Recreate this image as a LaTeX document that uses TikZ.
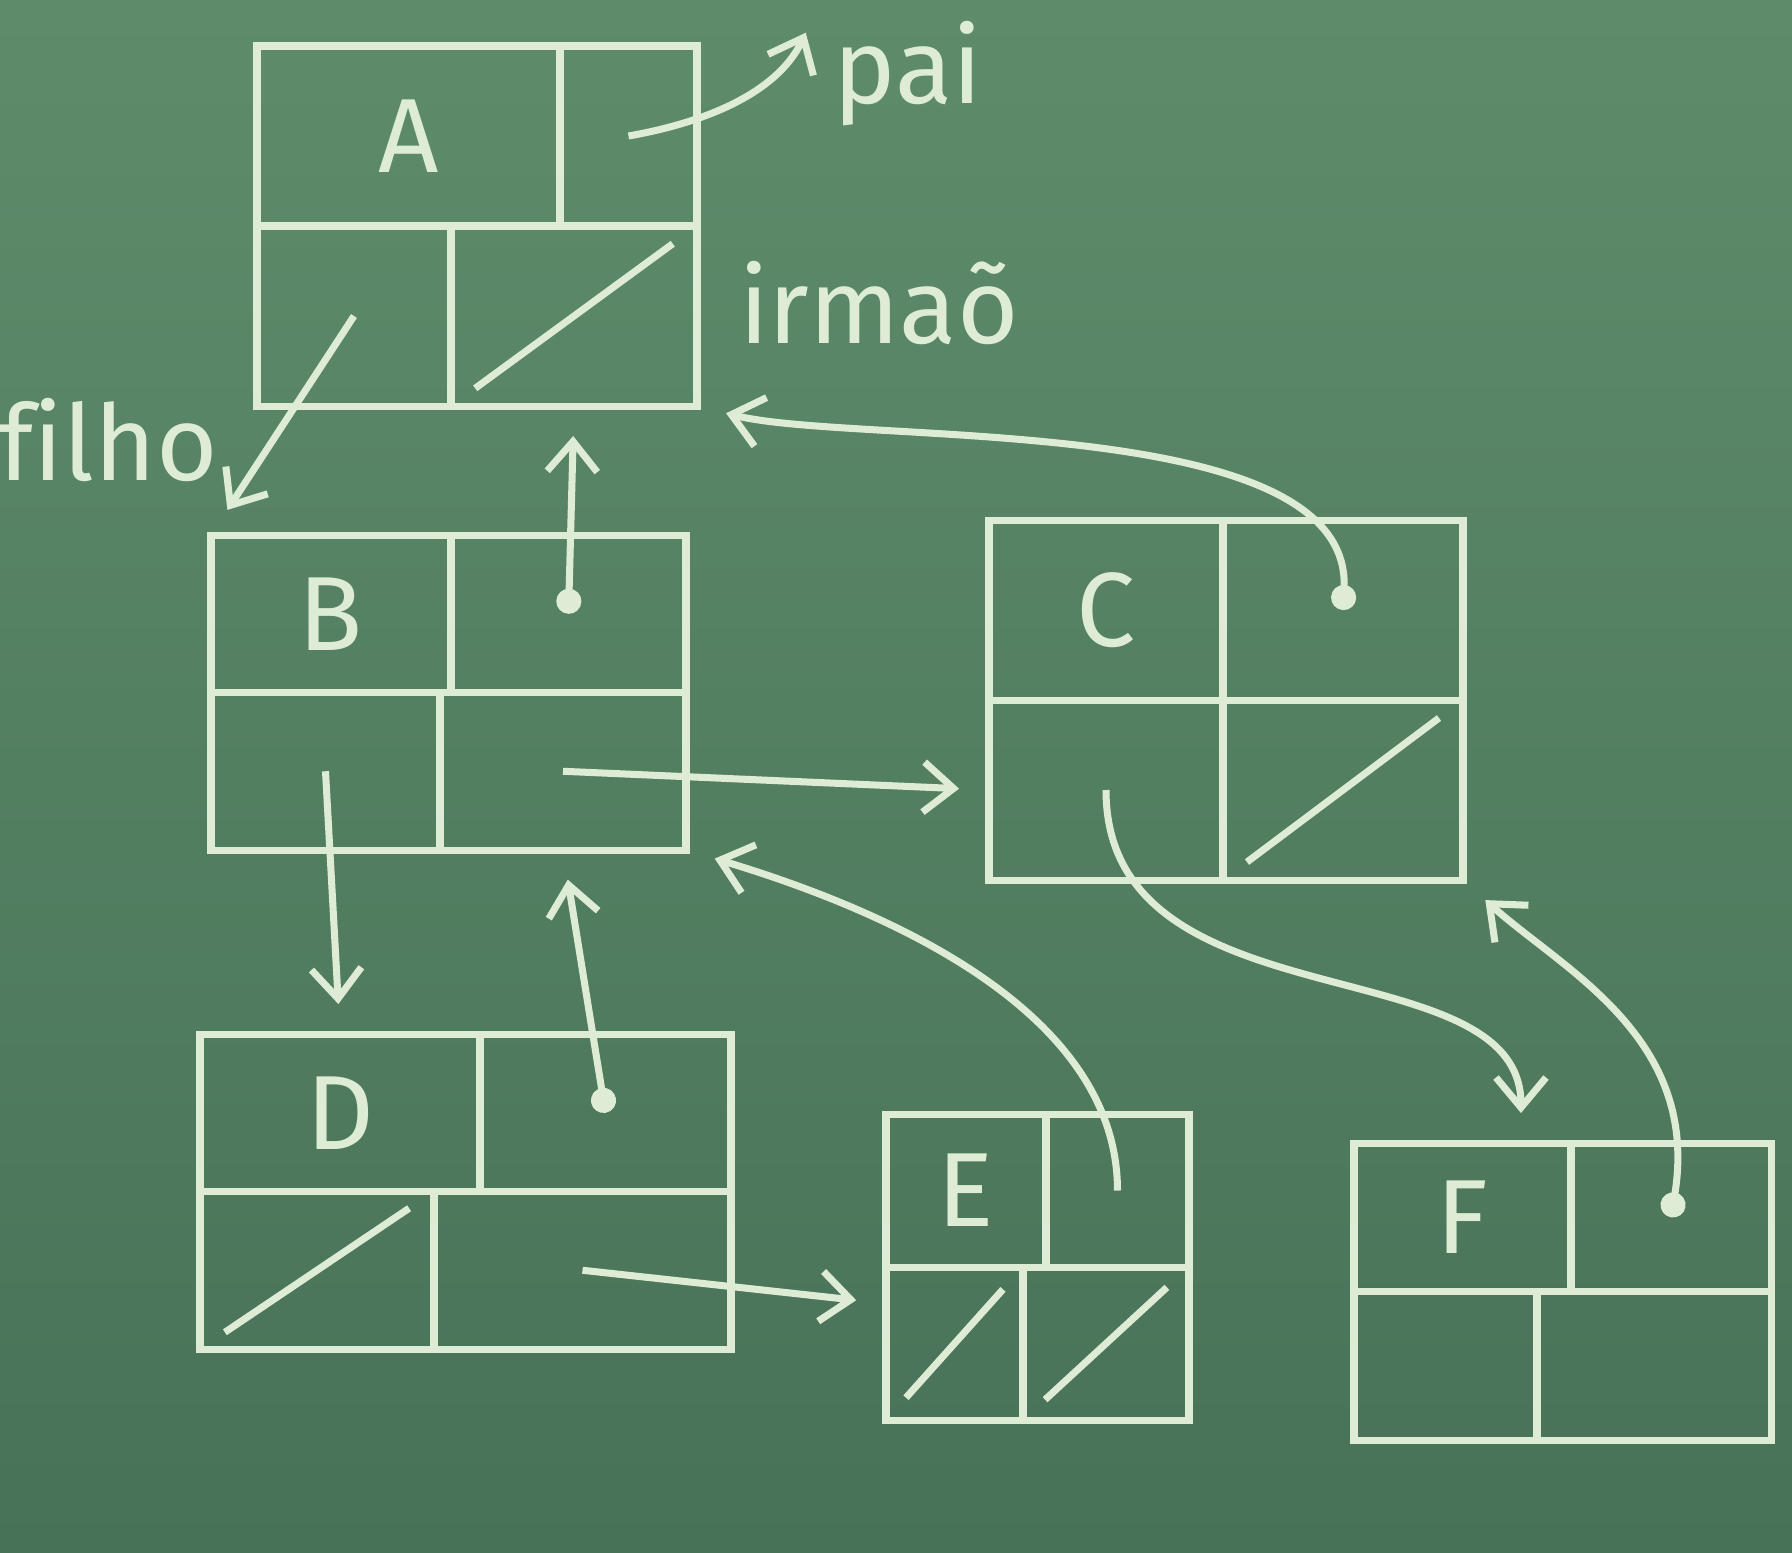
\documentclass[tikz,border=0pt]{standalone}
\usepackage{fontspec}
\setmainfont{Fira Sans}[Ligatures=NoCommon]
\usetikzlibrary{arrows.meta}
\definecolor{quadro}{RGB}{94,140,106}
\definecolor{quadroEsc}{RGB}{72,114,88}
\definecolor{giz}{RGB}{222,236,214}

% #1 nome, (#2,#3) canto superior esquerdo, #4 largura, #5 altura,
% #6 divisao de cima, #7 divisao de baixo, #8 chave
\newcommand{\registro}[8]{%
  \node[celula, anchor=north west, minimum width=#6cm, minimum height=#5cm/2] (#1-chave) at (#2,#3) {#8};
  \node[celula, anchor=north west, minimum width=#4cm-#6cm, minimum height=#5cm/2] (#1-pai) at (#1-chave.north east) {};
  \node[celula, anchor=north west, minimum width=#7cm, minimum height=#5cm/2] (#1-filho) at (#1-chave.south west) {};
  \node[celula, anchor=north west, minimum width=#4cm-#7cm, minimum height=#5cm/2] (#1-irmao) at (#1-filho.north east) {};
}

\begin{document}
\begin{tikzpicture}[color=giz, font=\fontsize{30}{34}\selectfont,
  every path/.style={line width=2pt},
  celula/.style={draw, rectangle, inner sep=0pt, outer sep=0pt},
  ptr/.style={-{Straight Barb[length=3mm,width=5mm]}, shorten >=3mm},
  ptrdot/.style={{Circle[length=2.5mm]}-{Straight Barb[length=3mm,width=5mm]}, shorten >=3mm},
  nulo/.style={shorten <=3mm, shorten >=3mm}]

% Quadro
\useasboundingbox (0,0) rectangle (17.92,-15.52);
\shade[top color=quadro, bottom color=quadroEsc] (0,0) rectangle (17.92,-15.52);

% Registros
\registro{A}{2.57}{-0.46}{4.40}{3.60}{3.03}{1.94}{A}
\registro{B}{2.11}{-5.35}{4.75}{3.15}{2.40}{2.29}{B}
\registro{C}{9.89}{-5.20}{4.74}{3.60}{2.34}{2.34}{C}
\registro{D}{2.00}{-10.34}{5.31}{3.15}{2.80}{2.34}{D}
\registro{E}{8.86}{-11.14}{3.03}{3.06}{1.60}{1.37}{E}
\registro{F}{13.54}{-11.43}{4.17}{2.97}{2.17}{1.83}{F}

% Nomes dos campos
\node[anchor=base] (pai) at (9.08,-1.03) {pai};
\node[anchor=base] (irmao) at (8.79,-3.43) {irmaõ};
\node[anchor=base] (filho) at (1.08,-4.80) {filho};

% Ponteiros nulos
\foreach \c in {A-irmao, C-irmao, D-filho, E-filho, E-irmao} {
    \draw[nulo] (\c.south west) -- (\c.north east);
}

% Ponteiros
\draw[ptr] (A-pai.center) to[out=10, in=-115] (pai.north west);
\draw[ptr] (A-filho.center) -- (B-chave.north west);
\draw[ptrdot] (B-pai.center) -- (A-irmao.south);
\draw[ptr] (B-filho.center) -- (D-chave.north);
\draw[ptr] (B-irmao.center) -- (C-filho.west);
\draw[ptrdot] (C-pai.center) .. controls +(0.1,2.0) and +(1.6,-0.4) .. (A-irmao.south east);
\draw[ptr] (C-filho.center) .. controls +(0,-2.4) and +(0,2.0) .. ([xshift=-5mm]F-chave.north east);
\draw[ptrdot] (D-pai.center) -- (B-irmao.south);
\draw[ptr] (D-irmao.center) -- ([yshift=4mm]E-filho.west);
\draw[ptr] (E-pai.center) .. controls +(0,1.8) and +(2.0,-0.6) .. (B-irmao.south east);
\draw[ptrdot] (F-pai.center) .. controls +(0.3,1.8) and +(1.0,-0.9) .. (C-irmao.south east);

\end{tikzpicture}
\end{document}
